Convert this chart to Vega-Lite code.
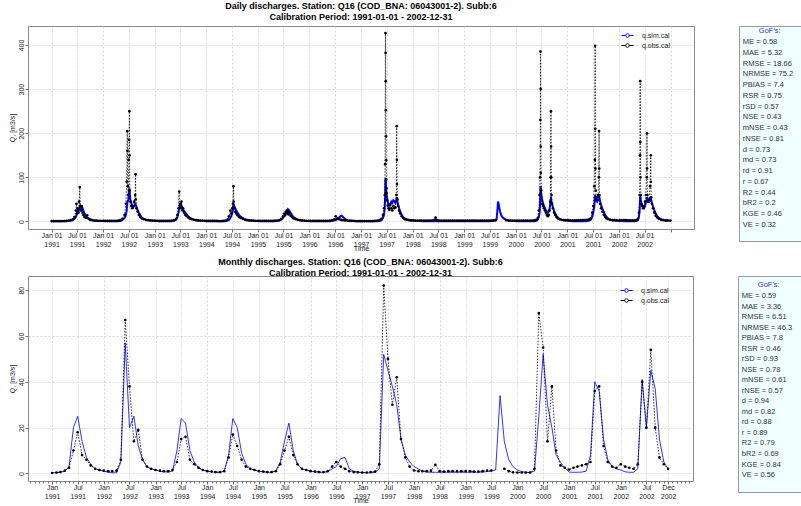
{
"$schema": "https://vega.github.io/schema/vega-lite/v6.json",
"background": "white",
"padding": {"left": 7, "top": 1, "right": 0, "bottom": 0},
"config": {
  "font": "Liberation Sans",
  "view": {"stroke": null},
  "axis": {"labelFont": "Liberation Sans", "labelFontSize": 7, "labelColor": "#222", "tickColor": "#555", "tickWidth": 0.8, "domain": false, "grid": true, "gridColor": "#d0d0d0", "gridDash": [2, 2], "gridWidth": 0.8, "titleFont": "Liberation Sans", "titleFontSize": 7, "titleFontWeight": "normal", "titleColor": "#222"},
  "title": {"font": "Liberation Sans", "fontSize": 9, "fontWeight": "bold", "color": "#000", "anchor": "middle", "lineHeight": 11},
  "legend": {"orient": "none", "labelFont": "Liberation Sans", "labelFontSize": 7, "labelColor": "#222", "symbolType": "M-2,0H-0.6M0.6,0H2M0.6,0A0.6,0.6,0,1,1,-0.6,0A0.6,0.6,0,1,1,0.6,0", "symbolSize": 36, "symbolStrokeWidth": 1, "rowPadding": 1, "labelOffset": 11, "title": null, "padding": 0}
},
"datasets": {
"daily": [
{"d":"1991-01-01","s":0.3,"o":1},{"d":"1991-01-16","s":0.3,"o":1},{"d":"1991-02-01","s":0.3,"o":1},{"d":"1991-02-16","s":0.3,"o":1},{"d":"1991-03-01","s":0.4,"o":1},{"d":"1991-03-16","s":0.5,"o":1},{"d":"1991-04-01","s":0.6,"o":1.2},{"d":"1991-04-16","s":0.7,"o":1.5},{"d":"1991-05-01","s":1,"o":2},{"d":"1991-05-16","s":1.5,"o":3},{"d":"1991-06-01","s":3,"o":5},{"d":"1991-06-12","s":6,"o":10},{"d":"1991-06-22","s":10,"o":25},{"d":"1991-06-26","s":15,"o":40},{"d":"1991-06-30","s":20,"o":18},{"d":"1991-07-05","s":25,"o":30},{"d":"1991-07-10","s":22,"o":20},{"d":"1991-07-15","s":28,"o":45},{"d":"1991-07-20","s":33,"o":78},{"d":"1991-07-22","s":35,"o":35},{"d":"1991-07-27","s":30,"o":25},{"d":"1991-08-02","s":26,"o":35},{"d":"1991-08-08","s":30,"o":20},{"d":"1991-08-14","s":25,"o":15},{"d":"1991-08-22","s":18,"o":10},{"d":"1991-09-01","s":12,"o":8},{"d":"1991-09-10","s":9,"o":14},{"d":"1991-09-20","s":7,"o":6},{"d":"1991-10-01","s":5,"o":4},{"d":"1991-10-16","s":3,"o":3},{"d":"1991-11-01","s":2,"o":2},{"d":"1991-11-16","s":1.5,"o":2},{"d":"1991-12-01","s":1.2,"o":1.5},{"d":"1991-12-16","s":1,"o":1.5},
{"d":"1992-01-01","s":1,"o":1.5},{"d":"1992-01-16","s":0.8,"o":1.5},{"d":"1992-02-01","s":0.6,"o":1.5},{"d":"1992-02-16","s":0.5,"o":1.5},{"d":"1992-03-01","s":0.4,"o":1.5},{"d":"1992-03-16","s":0.4,"o":1.5},{"d":"1992-04-01","s":0.4,"o":1.5},{"d":"1992-04-16","s":0.5,"o":2},{"d":"1992-05-01","s":1,"o":3},{"d":"1992-05-16","s":3,"o":6},{"d":"1992-06-01","s":8,"o":15},{"d":"1992-06-10","s":15,"o":40},{"d":"1992-06-16","s":25,"o":90},{"d":"1992-06-20","s":40,"o":205},{"d":"1992-06-21","s":45,"o":160},{"d":"1992-06-23","s":45,"o":80},{"d":"1992-06-27","s":50,"o":60},{"d":"1992-07-01","s":60,"o":140},{"d":"1992-07-03","s":70,"o":185},{"d":"1992-07-05","s":75,"o":250},{"d":"1992-07-06","s":72,"o":150},{"d":"1992-07-08","s":62,"o":70},{"d":"1992-07-12","s":50,"o":45},{"d":"1992-07-18","s":42,"o":35},{"d":"1992-07-25","s":36,"o":30},{"d":"1992-08-01","s":32,"o":35},{"d":"1992-08-08","s":35,"o":45},{"d":"1992-08-15","s":40,"o":60},{"d":"1992-08-18","s":40,"o":107},{"d":"1992-08-19","s":38,"o":50},{"d":"1992-08-24","s":33,"o":30},{"d":"1992-09-01","s":26,"o":22},{"d":"1992-09-10","s":20,"o":15},{"d":"1992-09-20","s":14,"o":10},{"d":"1992-10-01","s":9,"o":7},{"d":"1992-10-16","s":6,"o":5},{"d":"1992-11-01","s":4,"o":3.5},{"d":"1992-11-16","s":3,"o":3},{"d":"1992-12-01","s":2,"o":2.5},{"d":"1992-12-16","s":1.5,"o":2},
{"d":"1993-01-01","s":1.2,"o":2},{"d":"1993-01-16","s":1,"o":1.5},{"d":"1993-02-01","s":0.8,"o":1.5},{"d":"1993-02-16","s":0.7,"o":1.5},{"d":"1993-03-01","s":0.6,"o":1.5},{"d":"1993-03-16","s":0.5,"o":1.5},{"d":"1993-04-01","s":0.5,"o":1.5},{"d":"1993-04-16","s":0.6,"o":1.5},{"d":"1993-05-01","s":0.8,"o":2},{"d":"1993-05-16","s":1.5,"o":3},{"d":"1993-06-01","s":4,"o":6},{"d":"1993-06-10","s":10,"o":15},{"d":"1993-06-18","s":20,"o":30},{"d":"1993-06-22","s":30,"o":68},{"d":"1993-06-24","s":32,"o":30},{"d":"1993-06-29","s":38,"o":40},{"d":"1993-07-04","s":40,"o":30},{"d":"1993-07-09","s":36,"o":45},{"d":"1993-07-14","s":32,"o":25},{"d":"1993-07-20","s":28,"o":30},{"d":"1993-07-27","s":24,"o":20},{"d":"1993-08-05","s":20,"o":15},{"d":"1993-08-15","s":16,"o":12},{"d":"1993-08-25","s":12,"o":9},{"d":"1993-09-05","s":9,"o":7},{"d":"1993-09-20","s":6,"o":5},{"d":"1993-10-05","s":4,"o":4},{"d":"1993-10-20","s":3,"o":3},{"d":"1993-11-05","s":2,"o":2.5},{"d":"1993-11-20","s":1.5,"o":2},{"d":"1993-12-05","s":1.2,"o":2},{"d":"1993-12-20","s":1,"o":1.5},
{"d":"1994-01-01","s":0.8,"o":1.5},{"d":"1994-01-16","s":0.7,"o":1.5},{"d":"1994-02-01","s":0.6,"o":1.5},{"d":"1994-02-16","s":0.5,"o":1.5},{"d":"1994-03-01","s":0.5,"o":1.5},{"d":"1994-03-16","s":0.4,"o":1.5},{"d":"1994-04-01","s":0.4,"o":1},{"d":"1994-04-16","s":0.4,"o":1},{"d":"1994-05-01","s":0.5,"o":1.5},{"d":"1994-05-16","s":0.8,"o":2},{"d":"1994-06-01","s":2,"o":5},{"d":"1994-06-10","s":4,"o":12},{"d":"1994-06-20","s":8,"o":25},{"d":"1994-06-26","s":12,"o":18},{"d":"1994-07-03","s":18,"o":30},{"d":"1994-07-08","s":25,"o":40},{"d":"1994-07-12","s":35,"o":80},{"d":"1994-07-14","s":38,"o":45},{"d":"1994-07-18","s":35,"o":30},{"d":"1994-07-24","s":30,"o":22},{"d":"1994-08-01","s":25,"o":18},{"d":"1994-08-10","s":20,"o":14},{"d":"1994-08-20","s":15,"o":10},{"d":"1994-09-01","s":11,"o":8},{"d":"1994-09-15","s":8,"o":6},{"d":"1994-10-01","s":5,"o":4},{"d":"1994-10-16","s":3.5,"o":3},{"d":"1994-11-01","s":2.5,"o":2.5},{"d":"1994-11-16","s":2,"o":2},{"d":"1994-12-01","s":1.5,"o":2},{"d":"1994-12-16","s":1.2,"o":1.5},
{"d":"1995-01-01","s":1,"o":1.5},{"d":"1995-01-16","s":0.8,"o":1.5},{"d":"1995-02-01","s":0.7,"o":1.5},{"d":"1995-02-16","s":0.6,"o":1.5},{"d":"1995-03-01","s":0.5,"o":1.5},{"d":"1995-03-16","s":0.5,"o":1.5},{"d":"1995-04-01","s":0.5,"o":1.5},{"d":"1995-04-16","s":0.5,"o":1.5},{"d":"1995-05-01","s":0.7,"o":2},{"d":"1995-05-16","s":1,"o":2},{"d":"1995-06-01","s":2,"o":3},{"d":"1995-06-15","s":4,"o":6},{"d":"1995-06-28","s":8,"o":12},{"d":"1995-07-06","s":12,"o":18},{"d":"1995-07-12","s":16,"o":14},{"d":"1995-07-18","s":18,"o":22},{"d":"1995-07-24","s":22,"o":25},{"d":"1995-07-28","s":25,"o":18},{"d":"1995-08-02","s":28,"o":22},{"d":"1995-08-06","s":27,"o":16},{"d":"1995-08-12","s":24,"o":20},{"d":"1995-08-20","s":20,"o":13},{"d":"1995-08-30","s":15,"o":10},{"d":"1995-09-10","s":10,"o":7},{"d":"1995-09-25","s":7,"o":5},{"d":"1995-10-10","s":4,"o":4},{"d":"1995-10-25","s":3,"o":3},{"d":"1995-11-10","s":2,"o":2.5},{"d":"1995-11-25","s":1.5,"o":2},{"d":"1995-12-10","s":1.2,"o":1.5},{"d":"1995-12-25","s":1,"o":1.5},
{"d":"1996-01-10","s":0.8,"o":1.5},{"d":"1996-01-25","s":0.7,"o":1.5},{"d":"1996-02-10","s":0.6,"o":1.5},{"d":"1996-02-25","s":0.5,"o":1.5},{"d":"1996-03-10","s":0.5,"o":1.5},{"d":"1996-03-25","s":0.5,"o":1.5},{"d":"1996-04-10","s":0.5,"o":1.5},{"d":"1996-04-25","s":0.5,"o":1.5},{"d":"1996-05-10","s":0.6,"o":1.5},{"d":"1996-05-25","s":0.8,"o":2},{"d":"1996-06-10","s":1.5,"o":3},{"d":"1996-06-25","s":2,"o":5},{"d":"1996-07-05","s":3,"o":12},{"d":"1996-07-10","s":4,"o":6},{"d":"1996-07-20","s":6,"o":8},{"d":"1996-07-30","s":9,"o":5},{"d":"1996-08-08","s":12,"o":4},{"d":"1996-08-16","s":13,"o":3.5},{"d":"1996-08-26","s":10,"o":3},{"d":"1996-09-08","s":6,"o":2.5},{"d":"1996-09-25","s":3,"o":2},{"d":"1996-10-10","s":2,"o":1.5},{"d":"1996-10-25","s":1.5,"o":1.5},{"d":"1996-11-10","s":1,"o":1.5},{"d":"1996-11-25","s":0.8,"o":1.2},{"d":"1996-12-10","s":0.6,"o":1},{"d":"1996-12-25","s":0.5,"o":1},
{"d":"1997-01-10","s":0.4,"o":1},{"d":"1997-01-25","s":0.4,"o":1},{"d":"1997-02-10","s":0.3,"o":1},{"d":"1997-02-25","s":0.3,"o":1},{"d":"1997-03-10","s":0.3,"o":1},{"d":"1997-03-25","s":0.4,"o":1},{"d":"1997-04-10","s":0.5,"o":1.5},{"d":"1997-04-25","s":0.7,"o":2},{"d":"1997-05-10","s":1,"o":3},{"d":"1997-05-25","s":3,"o":6},{"d":"1997-06-05","s":8,"o":15},{"d":"1997-06-12","s":15,"o":30},{"d":"1997-06-17","s":30,"o":60},{"d":"1997-06-20","s":55,"o":130},{"d":"1997-06-22","s":98,"o":427},{"d":"1997-06-23","s":95,"o":382},{"d":"1997-06-24","s":90,"o":318},{"d":"1997-06-25","s":85,"o":252},{"d":"1997-06-26","s":80,"o":193},{"d":"1997-06-27","s":75,"o":139},{"d":"1997-06-28","s":70,"o":95},{"d":"1997-06-29","s":66,"o":75},{"d":"1997-06-30","s":62,"o":64},{"d":"1997-07-03","s":55,"o":48},{"d":"1997-07-08","s":46,"o":36},{"d":"1997-07-14","s":40,"o":30},{"d":"1997-07-20","s":36,"o":26},{"d":"1997-07-27","s":40,"o":38},{"d":"1997-08-03","s":45,"o":30},{"d":"1997-08-10","s":42,"o":25},{"d":"1997-08-17","s":48,"o":35},{"d":"1997-08-24","s":46,"o":30},{"d":"1997-09-01","s":42,"o":32},{"d":"1997-09-07","s":50,"o":60},{"d":"1997-09-10","s":55,"o":216},{"d":"1997-09-11","s":53,"o":140},{"d":"1997-09-12","s":50,"o":85},{"d":"1997-09-15","s":45,"o":50},{"d":"1997-09-20","s":38,"o":35},{"d":"1997-09-27","s":30,"o":25},{"d":"1997-10-05","s":22,"o":18},{"d":"1997-10-15","s":15,"o":12},{"d":"1997-10-25","s":10,"o":8},{"d":"1997-11-05","s":7,"o":5},{"d":"1997-11-20","s":5,"o":4},{"d":"1997-12-05","s":3.5,"o":3},{"d":"1997-12-20","s":2.5,"o":2.5},
{"d":"1998-01-05","s":2,"o":2.5},{"d":"1998-01-20","s":1.5,"o":2},{"d":"1998-02-05","s":1.2,"o":2},{"d":"1998-02-20","s":1,"o":2},{"d":"1998-03-05","s":0.8,"o":2},{"d":"1998-03-20","s":0.7,"o":2},{"d":"1998-04-05","s":0.6,"o":2},{"d":"1998-04-20","s":0.5,"o":2},{"d":"1998-05-05","s":0.5,"o":2},{"d":"1998-05-20","s":0.5,"o":2.5},{"d":"1998-06-05","s":0.5,"o":4},{"d":"1998-06-12","s":0.5,"o":9},{"d":"1998-06-18","s":0.5,"o":4},{"d":"1998-06-28","s":0.5,"o":2.5},{"d":"1998-07-10","s":0.5,"o":2},{"d":"1998-07-25","s":0.5,"o":2},{"d":"1998-08-10","s":0.5,"o":2},{"d":"1998-08-25","s":0.5,"o":2},{"d":"1998-09-10","s":0.5,"o":2},{"d":"1998-09-25","s":0.5,"o":2},{"d":"1998-10-10","s":0.5,"o":2},{"d":"1998-10-25","s":0.5,"o":2},{"d":"1998-11-10","s":0.5,"o":2},{"d":"1998-11-25","s":0.5,"o":2},{"d":"1998-12-10","s":0.5,"o":2},{"d":"1998-12-25","s":0.5,"o":2},
{"d":"1999-01-10","s":0.5,"o":2},{"d":"1999-01-25","s":0.5,"o":2},{"d":"1999-02-10","s":0.5,"o":2},{"d":"1999-02-25","s":0.5,"o":2},{"d":"1999-03-10","s":0.5,"o":2},{"d":"1999-03-25","s":0.5,"o":2},{"d":"1999-04-10","s":0.5,"o":2},{"d":"1999-04-25","s":0.5,"o":2},{"d":"1999-05-10","s":0.5,"o":2},{"d":"1999-05-25","s":0.5,"o":2},{"d":"1999-06-10","s":0.6,"o":2},{"d":"1999-06-25","s":0.8,"o":2},{"d":"1999-07-10","s":1,"o":2},{"d":"1999-07-25","s":1.5,"o":2.5},{"d":"1999-08-10","s":2,"o":3},{"d":"1999-08-18","s":5,"o":null},{"d":"1999-08-24","s":25,"o":null},{"d":"1999-08-28","s":45,"o":null},{"d":"1999-09-01","s":42,"o":null},{"d":"1999-09-06","s":32,"o":null},{"d":"1999-09-12","s":22,"o":null},{"d":"1999-09-20","s":14,"o":null},{"d":"1999-10-01","s":9,"o":null},{"d":"1999-10-12","s":6,"o":null},{"d":"1999-10-25","s":4,"o":3},{"d":"1999-11-10","s":2.5,"o":2},{"d":"1999-11-25","s":1.8,"o":2},{"d":"1999-12-10","s":1.2,"o":2},{"d":"1999-12-25","s":1,"o":2},
{"d":"2000-01-10","s":0.8,"o":2},{"d":"2000-01-25","s":0.7,"o":2},{"d":"2000-02-10","s":0.6,"o":2},{"d":"2000-02-25","s":0.5,"o":2},{"d":"2000-03-10","s":0.5,"o":2},{"d":"2000-03-25","s":0.5,"o":2},{"d":"2000-04-10","s":0.5,"o":2},{"d":"2000-04-25","s":0.5,"o":2},{"d":"2000-05-10","s":0.7,"o":2.5},{"d":"2000-05-25","s":1.5,"o":4},{"d":"2000-06-05","s":4,"o":8},{"d":"2000-06-12","s":10,"o":25},{"d":"2000-06-18","s":20,"o":60},{"d":"2000-06-21","s":40,"o":100},{"d":"2000-06-23","s":60,"o":230},{"d":"2000-06-24","s":80,"o":385},{"d":"2000-06-25","s":78,"o":300},{"d":"2000-06-26","s":75,"o":170},{"d":"2000-06-27","s":70,"o":110},{"d":"2000-06-29","s":65,"o":70},{"d":"2000-07-02","s":58,"o":50},{"d":"2000-07-06","s":50,"o":40},{"d":"2000-07-12","s":42,"o":35},{"d":"2000-07-18","s":36,"o":30},{"d":"2000-07-25","s":30,"o":25},{"d":"2000-08-01","s":26,"o":20},{"d":"2000-08-08","s":22,"o":15},{"d":"2000-08-15","s":20,"o":12},{"d":"2000-08-22","s":24,"o":15},{"d":"2000-08-28","s":30,"o":25},{"d":"2000-09-01","s":38,"o":45},{"d":"2000-09-04","s":48,"o":100},{"d":"2000-09-06","s":55,"o":250},{"d":"2000-09-07","s":52,"o":170},{"d":"2000-09-08","s":50,"o":100},{"d":"2000-09-10","s":45,"o":60},{"d":"2000-09-14","s":40,"o":40},{"d":"2000-09-20","s":32,"o":30},{"d":"2000-09-28","s":24,"o":20},{"d":"2000-10-06","s":18,"o":15},{"d":"2000-10-15","s":13,"o":10},{"d":"2000-10-25","s":9,"o":7},{"d":"2000-11-05","s":6,"o":5},{"d":"2000-11-20","s":4,"o":4},{"d":"2000-12-05","s":3,"o":3},{"d":"2000-12-20","s":2,"o":3},
{"d":"2001-01-05","s":1.5,"o":3},{"d":"2001-01-20","s":1,"o":2.5},{"d":"2001-02-05","s":0.8,"o":2.5},{"d":"2001-02-20","s":0.7,"o":2.5},{"d":"2001-03-05","s":0.6,"o":2.5},{"d":"2001-03-20","s":0.6,"o":3},{"d":"2001-04-05","s":0.6,"o":3},{"d":"2001-04-20","s":0.6,"o":3},{"d":"2001-05-05","s":0.8,"o":3.5},{"d":"2001-05-20","s":1,"o":4},{"d":"2001-06-05","s":2,"o":5},{"d":"2001-06-15","s":4,"o":8},{"d":"2001-06-25","s":10,"o":20},{"d":"2001-07-03","s":20,"o":35},{"d":"2001-07-10","s":35,"o":80},{"d":"2001-07-14","s":50,"o":140},{"d":"2001-07-16","s":58,"o":398},{"d":"2001-07-17","s":60,"o":210},{"d":"2001-07-18","s":58,"o":120},{"d":"2001-07-20","s":54,"o":70},{"d":"2001-07-24","s":48,"o":50},{"d":"2001-07-30","s":45,"o":55},{"d":"2001-08-06","s":48,"o":60},{"d":"2001-08-11","s":52,"o":100},{"d":"2001-08-13","s":58,"o":205},{"d":"2001-08-14","s":56,"o":120},{"d":"2001-08-16","s":52,"o":60},{"d":"2001-08-20","s":46,"o":40},{"d":"2001-08-27","s":38,"o":30},{"d":"2001-09-05","s":30,"o":22},{"d":"2001-09-15","s":22,"o":15},{"d":"2001-09-25","s":15,"o":10},{"d":"2001-10-05","s":10,"o":7},{"d":"2001-10-18","s":6,"o":5},{"d":"2001-11-01","s":4,"o":4},{"d":"2001-11-16","s":3,"o":3},{"d":"2001-12-01","s":2,"o":3},{"d":"2001-12-16","s":1.5,"o":3},
{"d":"2002-01-05","s":1.2,"o":3},{"d":"2002-01-20","s":1,"o":3},{"d":"2002-02-05","s":0.8,"o":3},{"d":"2002-02-20","s":0.7,"o":3},{"d":"2002-03-05","s":0.6,"o":2.5},{"d":"2002-03-20","s":0.6,"o":2.5},{"d":"2002-04-05","s":0.6,"o":2.5},{"d":"2002-04-20","s":0.7,"o":2.5},{"d":"2002-05-05","s":1,"o":3},{"d":"2002-05-15","s":3,"o":6},{"d":"2002-05-22","s":10,"o":20},{"d":"2002-05-27","s":25,"o":60},{"d":"2002-05-30","s":45,"o":150},{"d":"2002-05-31","s":55,"o":318},{"d":"2002-06-01","s":58,"o":180},{"d":"2002-06-02","s":55,"o":100},{"d":"2002-06-04","s":50,"o":60},{"d":"2002-06-08","s":42,"o":40},{"d":"2002-06-14","s":36,"o":35},{"d":"2002-06-20","s":32,"o":30},{"d":"2002-06-27","s":30,"o":35},{"d":"2002-07-04","s":35,"o":45},{"d":"2002-07-10","s":42,"o":60},{"d":"2002-07-16","s":50,"o":100},{"d":"2002-07-18","s":55,"o":200},{"d":"2002-07-19","s":52,"o":120},{"d":"2002-07-21","s":48,"o":60},{"d":"2002-07-26","s":45,"o":45},{"d":"2002-08-02","s":44,"o":50},{"d":"2002-08-09","s":48,"o":80},{"d":"2002-08-14","s":55,"o":150},{"d":"2002-08-15","s":52,"o":90},{"d":"2002-08-17","s":48,"o":55},{"d":"2002-08-22","s":42,"o":40},{"d":"2002-08-30","s":34,"o":30},{"d":"2002-09-08","s":26,"o":20},{"d":"2002-09-18","s":18,"o":13},{"d":"2002-09-28","s":12,"o":9},{"d":"2002-10-10","s":8,"o":6},{"d":"2002-10-25","s":5,"o":4},{"d":"2002-11-10","s":3.5,"o":3},{"d":"2002-11-25","s":2.5,"o":2.5},{"d":"2002-12-10","s":2,"o":2.5},{"d":"2002-12-31","s":1.5,"o":2}
],
"monthly": [
{"d":"1991-01-01","s":0.3,"o":0.2},{"d":"1991-02-01","s":0.3,"o":0.4},{"d":"1991-03-01","s":0.5,"o":0.6},{"d":"1991-04-01","s":1,"o":1.2},{"d":"1991-05-01","s":3,"o":2.5},{"d":"1991-06-01","s":20,"o":10},{"d":"1991-07-01","s":25,"o":18},{"d":"1991-08-01","s":14,"o":8},{"d":"1991-09-01","s":7,"o":6},{"d":"1991-10-01","s":4,"o":3.5},{"d":"1991-11-01","s":2,"o":2},{"d":"1991-12-01","s":1.5,"o":1.5},
{"d":"1992-01-01","s":1,"o":1.2},{"d":"1992-02-01","s":0.5,"o":1},{"d":"1992-03-01","s":0.3,"o":1},{"d":"1992-04-01","s":0.3,"o":1.2},{"d":"1992-05-01","s":5,"o":6},{"d":"1992-06-01","s":57,"o":67},{"d":"1992-07-01","s":20,"o":38},{"d":"1992-08-01","s":25,"o":14},{"d":"1992-09-01","s":12,"o":19},{"d":"1992-10-01","s":6,"o":6},{"d":"1992-11-01","s":3,"o":3},{"d":"1992-12-01","s":2,"o":2},
{"d":"1993-01-01","s":1.5,"o":1.5},{"d":"1993-02-01","s":1,"o":1.2},{"d":"1993-03-01","s":0.7,"o":1},{"d":"1993-04-01","s":0.6,"o":1},{"d":"1993-05-01","s":1,"o":1.5},{"d":"1993-06-01","s":10,"o":5},{"d":"1993-07-01","s":24,"o":15},{"d":"1993-08-01","s":22,"o":16},{"d":"1993-09-01","s":10,"o":6},{"d":"1993-10-01","s":5,"o":4},{"d":"1993-11-01","s":2.5,"o":2.5},{"d":"1993-12-01","s":1.5,"o":1.5},
{"d":"1994-01-01","s":1,"o":1},{"d":"1994-02-01","s":0.7,"o":0.8},{"d":"1994-03-01","s":0.5,"o":0.6},{"d":"1994-04-01","s":0.4,"o":0.6},{"d":"1994-05-01","s":1,"o":1},{"d":"1994-06-01","s":8,"o":7},{"d":"1994-07-01","s":24,"o":17},{"d":"1994-08-01","s":20,"o":12},{"d":"1994-09-01","s":9,"o":6},{"d":"1994-10-01","s":4,"o":3},{"d":"1994-11-01","s":2,"o":2},{"d":"1994-12-01","s":1.5,"o":1.5},
{"d":"1995-01-01","s":1,"o":1},{"d":"1995-02-01","s":0.7,"o":0.8},{"d":"1995-03-01","s":0.5,"o":0.6},{"d":"1995-04-01","s":0.5,"o":0.6},{"d":"1995-05-01","s":1,"o":1},{"d":"1995-06-01","s":5,"o":4},{"d":"1995-07-01","s":14,"o":10},{"d":"1995-08-01","s":22,"o":16},{"d":"1995-09-01","s":10,"o":8},{"d":"1995-10-01","s":4,"o":4},{"d":"1995-11-01","s":2,"o":2},{"d":"1995-12-01","s":1.5,"o":1.5},
{"d":"1996-01-01","s":1,"o":1},{"d":"1996-02-01","s":0.7,"o":0.8},{"d":"1996-03-01","s":0.5,"o":0.6},{"d":"1996-04-01","s":0.5,"o":0.6},{"d":"1996-05-01","s":0.7,"o":1},{"d":"1996-06-01","s":2,"o":3},{"d":"1996-07-01","s":3,"o":5},{"d":"1996-08-01","s":6.5,"o":3},{"d":"1996-09-01","s":7,"o":2},{"d":"1996-10-01","s":2,"o":1},{"d":"1996-11-01","s":1,"o":0.6},{"d":"1996-12-01","s":0.6,"o":0.5},
{"d":"1997-01-01","s":0.4,"o":0.4},{"d":"1997-02-01","s":0.3,"o":0.4},{"d":"1997-03-01","s":0.3,"o":0.6},{"d":"1997-04-01","s":0.5,"o":0.8},{"d":"1997-05-01","s":2,"o":4},{"d":"1997-06-01","s":52,"o":82},{"d":"1997-07-01","s":45,"o":50},{"d":"1997-08-01","s":38,"o":30},{"d":"1997-09-01","s":30,"o":42},{"d":"1997-10-01","s":15,"o":15},{"d":"1997-11-01","s":8,"o":7},{"d":"1997-12-01","s":5,"o":3},
{"d":"1998-01-01","s":3,"o":1.3},{"d":"1998-02-01","s":2,"o":1},{"d":"1998-03-01","s":1,"o":1},{"d":"1998-04-01","s":0.6,"o":1},{"d":"1998-05-01","s":0.5,"o":1.2},{"d":"1998-06-01","s":0.5,"o":3.8},{"d":"1998-07-01","s":0.5,"o":1},{"d":"1998-08-01","s":0.5,"o":0.8},{"d":"1998-09-01","s":0.5,"o":1},{"d":"1998-10-01","s":0.5,"o":1},{"d":"1998-11-01","s":0.5,"o":1},{"d":"1998-12-01","s":0.5,"o":1},
{"d":"1999-01-01","s":0.5,"o":1},{"d":"1999-02-01","s":0.5,"o":1},{"d":"1999-03-01","s":0.5,"o":0.8},{"d":"1999-04-01","s":0.5,"o":0.8},{"d":"1999-05-01","s":0.6,"o":1},{"d":"1999-06-01","s":0.8,"o":1.2},{"d":"1999-07-01","s":1,"o":1.3},{"d":"1999-08-01","s":1.5,"o":null},{"d":"1999-09-01","s":34,"o":null},{"d":"1999-10-01","s":14,"o":2},{"d":"1999-11-01","s":6,"o":1},{"d":"1999-12-01","s":3,"o":0.5},
{"d":"2000-01-01","s":1.5,"o":0.4},{"d":"2000-02-01","s":0.8,"o":0.4},{"d":"2000-03-01","s":0.5,"o":0.4},{"d":"2000-04-01","s":0.5,"o":0.4},{"d":"2000-05-01","s":1,"o":2},{"d":"2000-06-01","s":25,"o":70},{"d":"2000-07-01","s":52,"o":55},{"d":"2000-08-01","s":30,"o":14},{"d":"2000-09-01","s":20,"o":38},{"d":"2000-10-01","s":8,"o":10},{"d":"2000-11-01","s":4.8,"o":3.5},{"d":"2000-12-01","s":2.5,"o":2.5},
{"d":"2001-01-01","s":0.6,"o":1.7},{"d":"2001-02-01","s":0.5,"o":2.5},{"d":"2001-03-01","s":0.5,"o":3},{"d":"2001-04-01","s":0.6,"o":3.5},{"d":"2001-05-01","s":1,"o":4},{"d":"2001-06-01","s":8,"o":5},{"d":"2001-07-01","s":40,"o":36},{"d":"2001-08-01","s":36,"o":38},{"d":"2001-09-01","s":15,"o":12},{"d":"2001-10-01","s":6,"o":5},{"d":"2001-11-01","s":3,"o":3},{"d":"2001-12-01","s":2,"o":2.5},
{"d":"2002-01-01","s":1.5,"o":4},{"d":"2002-02-01","s":0.7,"o":3},{"d":"2002-03-01","s":0.5,"o":2.5},{"d":"2002-04-01","s":0.5,"o":2},{"d":"2002-05-01","s":2,"o":4},{"d":"2002-06-01","s":41,"o":40},{"d":"2002-07-01","s":20,"o":20},{"d":"2002-08-01","s":45,"o":54},{"d":"2002-09-01","s":37,"o":20},{"d":"2002-10-01","s":15,"o":7},{"d":"2002-11-01","s":5,"o":4},{"d":"2002-12-01","s":2,"o":2}
],
"gof1": [
{"i":0,"t":"GoF's:"},{"i":1,"t":"ME = 0.58"},{"i":2,"t":"MAE = 5.32"},{"i":3,"t":"RMSE = 18.66"},{"i":4,"t":"NRMSE = 75.2"},{"i":5,"t":"PBIAS = 7.4"},{"i":6,"t":"RSR = 0.75"},{"i":7,"t":"rSD = 0.57"},{"i":8,"t":"NSE = 0.43"},{"i":9,"t":"mNSE = 0.43"},{"i":10,"t":"rNSE = 0.81"},{"i":11,"t":"d = 0.73"},{"i":12,"t":"md = 0.73"},{"i":13,"t":"rd = 0.91"},{"i":14,"t":"r = 0.67"},{"i":15,"t":"R2 = 0.44"},{"i":16,"t":"bR2 = 0.2"},{"i":17,"t":"KGE = 0.46"},{"i":18,"t":"VE = 0.32"}
],
"gof2": [
{"i":0,"t":"GoF's:"},{"i":1,"t":"ME = 0.59"},{"i":2,"t":"MAE = 3.36"},{"i":3,"t":"RMSE = 6.51"},{"i":4,"t":"NRMSE = 46.3"},{"i":5,"t":"PBIAS = 7.8"},{"i":6,"t":"RSR = 0.46"},{"i":7,"t":"rSD = 0.93"},{"i":8,"t":"NSE = 0.78"},{"i":9,"t":"mNSE = 0.61"},{"i":10,"t":"rNSE = 0.57"},{"i":11,"t":"d = 0.94"},{"i":12,"t":"md = 0.82"},{"i":13,"t":"rd = 0.88"},{"i":14,"t":"r = 0.89"},{"i":15,"t":"R2 = 0.79"},{"i":16,"t":"bR2 = 0.69"},{"i":17,"t":"KGE = 0.84"},{"i":18,"t":"VE = 0.56"}
]
},
"spacing": 5,
"resolve": {"scale": {"color": "independent", "x": "independent", "y": "independent"}, "legend": {"color": "independent"}},
"vconcat": [
{
 "spacing": 43,
 "resolve": {"scale": {"color": "independent", "x": "independent", "y": "independent"}, "legend": {"color": "independent"}},
 "hconcat": [
 {
  "width": 666, "height": 203,
  "view": {"stroke": "#888", "strokeWidth": 1},
  "title": {"text": ["Daily discharges. Station: Q16 (COD_BNA: 06043001-2). Subb:6", "Calibration Period: 1991-01-01 - 2002-12-31"], "offset": 4},
  "data": {"name": "daily"},
  "layer": [
   {"mark": {"type": "line", "strokeWidth": 2},
    "encoding": {
     "x": {"field": "d", "type": "temporal",
       "scale": {"type": "utc", "domain": [{"year": 1990, "month": 7, "date": 18, "utc": true}, {"year": 2003, "month": 6, "date": 16, "utc": true}]},
       "axis": {"tickCount": {"interval": "month", "step": 6}, "labelExpr": "utcyear(datum.value) > 2002 ? '' : [utcFormat(datum.value, '%b %d'), utcFormat(datum.value, '%Y')]", "title": "Time", "titlePadding": -3, "tickSize": 3, "labelPadding": -1, "labelLineHeight": 9, "labelOverlap": false, "labelFlush": false, "labelBaseline": "top"}},
     "y": {"field": "s", "type": "quantitative", "scale": {"domain": [-17, 443], "nice": false, "zero": false},
       "axis": {"values": [0, 100, 200, 300, 400], "title": "Q, [m3/s]", "titlePadding": 2, "tickSize": 3, "labelPadding": 1, "labelAngle": -90, "labelAlign": "center", "labelBaseline": "bottom"}},
     "color": {"datum": "q.sim.cal", "scale": {"domain": ["q.sim.cal", "q.obs.cal"], "range": ["#0000ff", "#000000"]},
       "legend": {"legendX": 596, "legendY": 6}}
    }},
   {"mark": {"type": "line", "strokeWidth": 0.8, "strokeDash": [1.5, 1.5]},
    "encoding": {
     "x": {"field": "d", "type": "temporal"},
     "y": {"field": "o", "type": "quantitative"},
     "color": {"datum": "q.obs.cal"}
    }},
   {"mark": {"type": "point", "filled": true, "size": 7, "strokeWidth": 0, "opacity": 1, "color": "#000"},
    "encoding": {
     "x": {"field": "d", "type": "temporal"},
     "y": {"field": "o", "type": "quantitative"}
    }}
  ]
 },
 {
  "width": 64, "height": 215,
  "title": {"text": " ", "fontSize": 10, "offset": 3},
  "view": {"fill": "#f0ffff", "stroke": "#999", "strokeWidth": 1},
  "data": {"name": "gof1"},
  "layer": [
   {"transform": [{"filter": "datum.i == 0"}],
    "mark": {"type": "text", "align": "center", "baseline": "middle", "fontSize": 7.5, "color": "#3333aa"},
    "encoding": {
     "x": {"datum": 0.48, "type": "quantitative", "scale": {"domain": [0, 1]}, "axis": null},
     "y": {"field": "i", "type": "quantitative", "scale": {"domain": [-0.49, 19.49], "reverse": true, "nice": false, "zero": false}, "axis": null},
     "text": {"field": "t"}
    }},
   {"transform": [{"filter": "datum.i > 0"}],
    "mark": {"type": "text", "align": "left", "baseline": "middle", "fontSize": 7.5, "color": "#333"},
    "encoding": {
     "x": {"datum": 0.06, "type": "quantitative", "scale": {"domain": [0, 1]}, "axis": null},
     "y": {"field": "i", "type": "quantitative", "scale": {"domain": [-0.49, 19.49], "reverse": true, "nice": false, "zero": false}, "axis": null},
     "text": {"field": "t"}
    }}
  ]
 }
 ]
},
{
 "spacing": 43,
 "resolve": {"scale": {"color": "independent", "x": "independent", "y": "independent"}, "legend": {"color": "independent"}},
 "hconcat": [
 {
  "width": 665, "height": 205,
  "view": {"stroke": "#888", "strokeWidth": 1},
  "title": {"text": ["Monthly discharges. Station: Q16 (COD_BNA: 06043001-2). Subb:6", "Calibration Period: 1991-01-01 - 2002-12-31"], "offset": -2},
  "data": {"name": "monthly"},
  "resolve": {"axis": {"x": "independent"}},
  "layer": [
   {"mark": {"type": "line", "strokeWidth": 0.8},
    "encoding": {
     "x": {"field": "d", "type": "temporal",
       "scale": {"type": "utc", "domain": [{"year": 1990, "month": 7, "date": 15, "utc": true}, {"year": 2003, "month": 5, "date": 26, "utc": true}]},
       "axis": {"values": [
         {"year":1991,"month":1,"date":1,"utc":true},{"year":1991,"month":7,"date":1,"utc":true},
         {"year":1992,"month":1,"date":1,"utc":true},{"year":1992,"month":7,"date":1,"utc":true},
         {"year":1993,"month":1,"date":1,"utc":true},{"year":1993,"month":7,"date":1,"utc":true},
         {"year":1994,"month":1,"date":1,"utc":true},{"year":1994,"month":7,"date":1,"utc":true},
         {"year":1995,"month":1,"date":1,"utc":true},{"year":1995,"month":7,"date":1,"utc":true},
         {"year":1996,"month":1,"date":1,"utc":true},{"year":1996,"month":7,"date":1,"utc":true},
         {"year":1997,"month":1,"date":1,"utc":true},{"year":1997,"month":7,"date":1,"utc":true},
         {"year":1998,"month":1,"date":1,"utc":true},{"year":1998,"month":7,"date":1,"utc":true},
         {"year":1999,"month":1,"date":1,"utc":true},{"year":1999,"month":7,"date":1,"utc":true},
         {"year":2000,"month":1,"date":1,"utc":true},{"year":2000,"month":7,"date":1,"utc":true},
         {"year":2001,"month":1,"date":1,"utc":true},{"year":2001,"month":7,"date":1,"utc":true},
         {"year":2002,"month":1,"date":1,"utc":true},{"year":2002,"month":7,"date":1,"utc":true},
         {"year":2002,"month":12,"date":1,"utc":true}],
         "labelExpr": "[utcFormat(datum.value, '%b'), utcFormat(datum.value, '%Y')]", "title": "Time", "titlePadding": -3, "tickSize": 3, "labelPadding": -1, "labelLineHeight": 9, "labelOverlap": false, "labelFlush": false, "labelBaseline": "top", "orient": "bottom"}},
     "y": {"field": "s", "type": "quantitative", "scale": {"domain": [-3.3, 86.2], "nice": false, "zero": false},
       "axis": {"values": [0, 20, 40, 60, 80], "title": "Q, [m3/s]", "titlePadding": 2, "tickSize": 3, "labelPadding": 1, "labelAngle": -90, "labelAlign": "center", "labelBaseline": "bottom"}},
     "color": {"datum": "q.sim.cal", "scale": {"domain": ["q.sim.cal", "q.obs.cal"], "range": ["#0000ff", "#000000"]},
       "legend": {"legendX": 595, "legendY": 11}}
    }},
   {"mark": {"type": "line", "strokeWidth": 0.8, "strokeDash": [1.5, 1.5]},
    "encoding": {
     "x": {"field": "d", "type": "temporal", "axis": null},
     "y": {"field": "o", "type": "quantitative"},
     "color": {"datum": "q.obs.cal"}
    }},
   {"mark": {"type": "point", "filled": true, "size": 7, "strokeWidth": 0, "opacity": 1, "color": "#000"},
    "encoding": {
     "x": {"field": "d", "type": "temporal", "axis": {"orient": "bottom", "tickCount": {"interval": "month", "step": 1}, "labels": false, "grid": false, "tickSize": 2, "title": null, "domain": false}},
     "y": {"field": "o", "type": "quantitative"}
    }}
  ]
 },
 {
  "width": 64, "height": 216,
  "title": {"text": " ", "fontSize": 10, "offset": 3},
  "view": {"fill": "#f0ffff", "stroke": "#999", "strokeWidth": 1},
  "data": {"name": "gof2"},
  "layer": [
   {"transform": [{"filter": "datum.i == 0"}],
    "mark": {"type": "text", "align": "center", "baseline": "middle", "fontSize": 7.5, "color": "#3333aa"},
    "encoding": {
     "x": {"datum": 0.48, "type": "quantitative", "scale": {"domain": [0, 1]}, "axis": null},
     "y": {"field": "i", "type": "quantitative", "scale": {"domain": [-0.9, 19.61], "reverse": true, "nice": false, "zero": false}, "axis": null},
     "text": {"field": "t"}
    }},
   {"transform": [{"filter": "datum.i > 0"}],
    "mark": {"type": "text", "align": "left", "baseline": "middle", "fontSize": 7.5, "color": "#333"},
    "encoding": {
     "x": {"datum": 0.06, "type": "quantitative", "scale": {"domain": [0, 1]}, "axis": null},
     "y": {"field": "i", "type": "quantitative", "scale": {"domain": [-0.9, 19.61], "reverse": true, "nice": false, "zero": false}, "axis": null},
     "text": {"field": "t"}
    }}
  ]
 }
 ]
}
]
}
